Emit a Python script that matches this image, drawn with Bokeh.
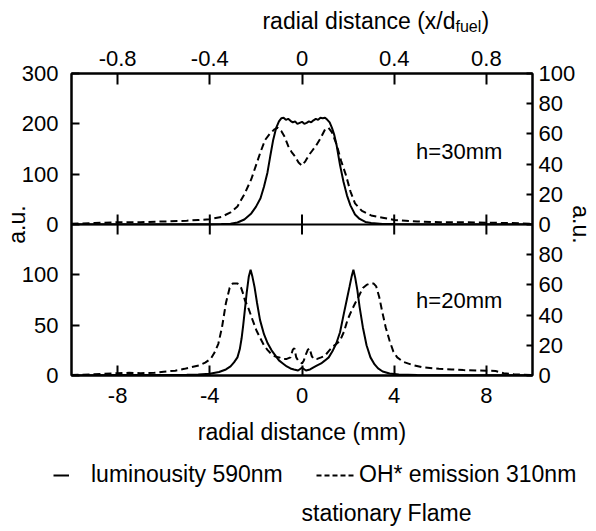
import numpy as np
from bokeh.plotting import figure
from bokeh.layouts import column
from bokeh.models import (Range1d, LinearAxis, FixedTicker, Span, Label, Legend,
                          LegendItem)
from bokeh.embed import file_html
from bokeh.resources import INLINE

FONT = "Liberation Sans"

# ---------------- data ----------------
d_fuel = 10.0  # mm, for the top axis (x/d_fuel)

mm_ticks = [-8, -4, 0, 4, 8]
mm_tick_labels = ["-8", "-4", "0", "4", "8"]
xd_ticks = [-0.8, -0.4, 0, 0.4, 0.8]
xd_tick_labels = ["-0.8", "-0.4", "0", "0.4", "0.8"]

top_left_ticks = [0, 100, 200, 300]
bot_left_ticks = [0, 50, 100]
top_right_ticks = [0, 20, 40, 60, 80, 100]
bot_right_ticks = [0, 20, 40, 60, 80]
top_left_max = 300
bot_left_max = 150
right_max = 100

# h = 30 mm, luminosity 590nm (left axis)
top_lum_x = [-10, -9, -8, -7, -6, -5, -4.5, -4, -3.5, -3.1, -2.8, -2.5, -2.2, -2.0, -1.8,
             -1.65, -1.5, -1.38, -1.25, -1.12, -1.0, -0.9, -0.8, -0.7, -0.6, -0.5, -0.4,
             -0.3, -0.2, -0.1, 0, 0.1, 0.2, 0.3, 0.4, 0.5, 0.6, 0.7, 0.8, 0.9, 1.0, 1.1,
             1.2, 1.3, 1.4, 1.5, 1.65, 1.8, 1.95, 2.1, 2.3, 2.5, 2.75, 3.0, 3.5, 4, 5, 6,
             7, 8, 9, 10]
top_lum_y = [0.5, 0.5, 0.5, 0.5, 0.5, 0.5, 0.5, 0.6, 0.8, 1.5, 4, 10, 22, 35, 52,
             75, 103, 135, 168, 192, 205, 211, 212, 208, 210, 206, 203,
             205, 200, 202, 204, 200, 202, 205, 203, 207, 210, 208, 212, 211, 212, 208,
             203, 192, 178, 158, 118, 85, 58, 38, 20, 11, 5, 3, 1.2, 0.8, 0.5, 0.5,
             0.5, 0.5, 0.5, 0.5]

# h = 30 mm, OH* emission 310nm (right axis)
top_oh_x = [-10, -9, -8, -7, -6, -5, -4.5, -4, -3.5, -3.1, -2.8, -2.5, -2.2, -2.0, -1.8,
            -1.6, -1.4, -1.2, -1.05, -0.9, -0.75, -0.6, -0.45, -0.3, -0.15, 0, 0.15,
            0.3, 0.45, 0.6, 0.8, 1.0, 1.15, 1.3, 1.5, 1.7, 1.9, 2.1, 2.3, 2.6, 3.0,
            3.5, 4, 4.5, 5, 6, 7, 8, 9, 10]
top_oh_y = [0.5, 1, 1.5, 1.5, 2, 2.5, 3, 3.5, 5, 8, 12, 20, 30, 39, 48,
            56, 60, 63, 64, 62, 58, 52, 48, 45, 41, 39, 42,
            46, 49, 52, 57, 63, 64, 61, 53, 42, 33, 22, 14, 9, 6,
            4.5, 3, 2.5, 2, 1.5, 1.5, 1.2, 1, 0.5]

# h = 20 mm, luminosity 590nm (left axis)
bot_lum_x = [-10, -9, -8, -7, -6, -5, -4.5, -4, -3.6, -3.3, -3.1, -2.95, -2.8, -2.7,
             -2.62, -2.55, -2.48, -2.4, -2.31, -2.23, -2.15, -2.06, -1.95, -1.82, -1.65,
             -1.49, -1.32, -1.16, -1.0, -0.83, -0.66, -0.5, -0.35, -0.17, -0.05, 0, 0.05,
             0.17, 0.35, 0.5, 0.66, 0.83, 1.0, 1.16, 1.32, 1.49, 1.65, 1.82, 1.95, 2.06,
             2.15, 2.23, 2.31, 2.4, 2.5, 2.64, 2.8, 2.97, 3.15, 3.3, 3.5, 3.8, 4.2, 5,
             6, 7, 8, 9, 10]
bot_lum_y = [0, 0.3, 0.5, 0.5, 0.5, 0.8, 1, 1.7, 3.5, 6, 9, 13, 18, 26,
             37, 50, 65, 82, 98, 105, 98, 88, 72, 55, 41,
             32, 25, 20, 15, 12, 9, 7, 6, 5, 7, 8, 7,
             5, 6, 8, 10, 12, 15, 18, 24, 32, 43, 62, 76, 88,
             98, 105, 97, 85, 68, 48, 30, 18, 11, 7, 4, 2, 1, 0.5,
             0.3, 0.3, 0.3, 0.3, 0.3]

# h = 20 mm, OH* emission 310nm (right axis)
bot_oh_x = [-10, -9.5, -9, -8.6, -8, -7.5, -7, -6.4, -6, -5.5, -5.1, -4.8, -4.46, -4.2,
            -3.96, -3.8, -3.63, -3.47, -3.3, -3.14, -3.0, -2.8, -2.64, -2.55, -2.48,
            -2.31, -2.15, -1.98, -1.82, -1.65, -1.5, -1.32, -1.15, -0.99, -0.83, -0.66,
            -0.5, -0.4, -0.33, -0.25, -0.17, -0.08, 0, 0.08, 0.17, 0.25, 0.33, 0.42,
            0.5, 0.66, 0.83, 0.99, 1.15, 1.32, 1.5, 1.65, 1.82, 1.98, 2.15, 2.31, 2.48,
            2.64, 2.8, 2.97, 3.1, 3.22, 3.35, 3.47, 3.63, 3.8, 3.96, 4.13, 4.4, 4.79,
            5.2, 5.94, 6.5, 7.0, 7.59, 8.0, 8.4, 8.75, 9.2, 10]
bot_oh_y = [0.3, 0.5, 0.8, 1.2, 1.5, 1.8, 1.5, 1.8, 2.5, 3.2, 4.4, 5.5, 6.7, 8.5,
            11, 15, 21, 32, 48, 58, 61, 61, 58, 54, 50,
            44, 37, 30, 25, 20, 17, 14, 12.5, 12, 11, 11,
            12, 17, 18, 12, 10, 9, 8, 10, 14, 17, 18, 13,
            11, 11, 12, 13, 16, 19, 21, 23, 29, 37, 43, 48, 53,
            58, 60, 61, 61, 59, 52, 43, 32, 23, 16, 12, 9, 7,
            5.5, 4.4, 4, 3.6, 3.3, 3.2, 3, 1.5, 0.8, 0.3]

TICK_FS = "22px"
TITLE_FS = "23px"
W = 596
HEADER_H = 35
FOOTER_H = 72
DASH = "7 4"


def bare_figure(height):
    f = figure(width=W, height=height, frame_width=W, frame_height=height,
               x_range=Range1d(0, W), y_range=Range1d(0, height),
               x_axis_location=None, y_axis_location=None,
               toolbar_location=None, output_backend="svg",
               min_border_left=0, min_border_right=0, min_border_top=0,
               min_border_bottom=0)
    f.grid.visible = False
    f.outline_line_color = None
    return f


# ---------------- header: top axis title ----------------
hdr = bare_figure(HEADER_H)
hdr.add_layout(Label(x=384, y=15, text="radial distance (x/d", text_font=FONT,
                     text_font_size=TITLE_FS, text_color="black",
                     text_align="right", text_baseline="middle"))
hdr.add_layout(Label(x=384, y=9, text="fuel", text_font=FONT,
                     text_font_size="16px", text_color="black",
                     text_align="left", text_baseline="middle"))
hdr.add_layout(Label(x=410, y=15, text=")", text_font=FONT,
                     text_font_size=TITLE_FS, text_color="black",
                     text_align="left", text_baseline="middle"))

# ---------------- main figure ----------------
p = figure(frame_width=461, frame_height=302,
           x_range=Range1d(-10, 10), y_range=Range1d(0, 2 * bot_left_max),
           x_axis_location=None, y_axis_location=None,
           toolbar_location=None, output_backend="svg",
           min_border_left=70, min_border_right=65, min_border_top=38,
           min_border_bottom=82)
p.grid.visible = False
p.outline_line_color = "black"
p.outline_line_width = 2

p.extra_y_ranges = {
    "top": Range1d(-top_left_max, top_left_max),
    "topr": Range1d(-right_max, right_max),
    "r": Range1d(0, 2 * right_max),
}
p.extra_x_ranges = {"xd": Range1d(-10 / d_fuel, 10 / d_fuel)}


def style_axis(ax):
    ax.axis_line_width = 2
    ax.major_tick_line_width = 2
    ax.minor_tick_line_color = None
    ax.major_tick_out = 0
    ax.major_label_text_font = FONT
    ax.major_label_text_font_size = TICK_FS
    ax.major_label_text_color = "black"
    ax.axis_label_text_font = FONT
    ax.axis_label_text_font_size = TITLE_FS
    ax.axis_label_text_font_style = "normal"
    ax.axis_label_text_color = "black"


# left combined axis
scale_top = bot_left_max / top_left_max
left_pos = list(bot_left_ticks) + [bot_left_max + v * scale_top for v in top_left_ticks]
left_lab = [str(v) for v in bot_left_ticks] + [str(v) for v in top_left_ticks]
yl = LinearAxis(ticker=FixedTicker(ticks=left_pos, minor_ticks=[]),
                major_label_overrides=dict(zip(left_pos, left_lab)),
                axis_label="a.u.")
style_axis(yl)
yl.major_tick_in = 8
yl.major_label_standoff = 13
yl.axis_label_standoff = -11
p.add_layout(yl, "left")

# right combined axis
right_pos = list(bot_right_ticks) + [right_max + v for v in top_right_ticks]
right_lab = [str(v) for v in bot_right_ticks] + [str(v) for v in top_right_ticks]
yr = LinearAxis(y_range_name="r", ticker=FixedTicker(ticks=right_pos, minor_ticks=[]),
                major_label_overrides=dict(zip(right_pos, right_lab)),
                axis_label="a.u.")
style_axis(yr)
yr.major_tick_in = 6
yr.major_label_standoff = 6
yr.axis_label_standoff = -10
p.add_layout(yr, "right")

# bottom axis (mm)
xb = LinearAxis(ticker=FixedTicker(ticks=mm_ticks, minor_ticks=[]),
                major_label_overrides=dict(zip(mm_ticks, mm_tick_labels)),
                axis_label="radial distance (mm)")
style_axis(xb)
xb.major_tick_in = 10
xb.major_label_standoff = 12
xb.axis_label_standoff = 13
p.add_layout(xb, "below")

# top axis (x/d_fuel)
xt = LinearAxis(x_range_name="xd", ticker=FixedTicker(ticks=xd_ticks, minor_ticks=[]),
                major_label_overrides=dict(zip(xd_ticks, xd_tick_labels)))
style_axis(xt)
xt.major_tick_in = 11
xt.major_label_standoff = 8
p.add_layout(xt, "above")

# middle boundary line with ticks
p.add_layout(Span(location=0, dimension="width", y_range_name="top",
                  line_color="black", line_width=2))
p.scatter(x=mm_ticks, y=[0] * len(mm_ticks), y_range_name="top", marker="dash",
          angle=np.pi / 2, size=20, line_color="black", line_width=2)

# curves
p.line(top_lum_x, top_lum_y, y_range_name="top", line_color="black", line_width=2)
p.line(top_oh_x, top_oh_y, y_range_name="topr", line_color="black",
       line_width=2, line_dash=DASH)
p.line(bot_lum_x, bot_lum_y, line_color="black", line_width=2)
p.line(bot_oh_x, bot_oh_y, y_range_name="r", line_color="black", line_width=2,
       line_dash=DASH)

# panel labels
p.add_layout(Label(x=4.95, y=145, y_range_name="top", text="h=30mm",
                   text_font=FONT, text_font_size=TICK_FS, text_color="black",
                   text_baseline="middle"))
p.add_layout(Label(x=4.95, y=75, text="h=20mm",
                   text_font=FONT, text_font_size=TICK_FS, text_color="black",
                   text_baseline="middle"))

# ---------------- footer: legend + caption ----------------
ftr = bare_figure(FOOTER_H)
# legend proxies: same series, drawn on a range that keeps them out of view
ftr.extra_y_ranges = {"hidden": Range1d(10000, 20000)}
r_solid = ftr.line(x=top_lum_x, y=top_lum_y, y_range_name="hidden",
                   line_color="black", line_width=2)
r_dash = ftr.line(x=top_oh_x, y=top_oh_y, y_range_name="hidden",
                  line_color="black", line_width=2, line_dash="5 3")
leg_common = dict(orientation="horizontal", label_text_font=FONT,
                  label_text_font_size=TITLE_FS, label_text_color="black",
                  border_line_color=None, background_fill_alpha=0,
                  padding=0, margin=0, glyph_height=20)
leg1 = Legend(items=[LegendItem(label="luminousity 590nm", renderers=[r_solid])],
              location=(53, 41), glyph_width=16, label_standoff=22, **leg_common)
leg2 = Legend(items=[LegendItem(label="OH* emission 310nm", renderers=[r_dash])],
              location=(316, 41), glyph_width=39, label_standoff=4, **leg_common)
ftr.add_layout(leg1)
ftr.add_layout(leg2)
ftr.add_layout(Label(x=315, y=17, text="stationary Flame", text_font=FONT,
                     text_font_size=TITLE_FS, text_color="black",
                     text_align="center", text_baseline="middle"))

layout = column(hdr, p, ftr, spacing=0)
open("out.html", "w").write(file_html(layout, INLINE))
